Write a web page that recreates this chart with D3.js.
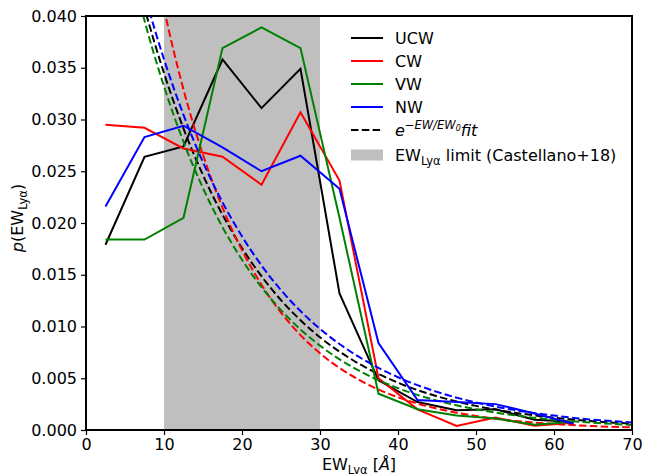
<!DOCTYPE html>
<html>
<head>
<meta charset="utf-8">
<script src="https://cdn.jsdelivr.net/npm/d3@7"></script>
<style>
  body { margin: 0; background: #fff; }
  text { font-family: "DejaVu Sans", sans-serif; }
</style>
</head>
<body>
<svg width="647" height="474"></svg>
<script>
// bin centres of the measured distributions
var binX = [2.5, 7.5, 12.5, 17.5, 22.5, 27.5, 32.5, 37.5, 42.5, 47.5, 52.5, 57.5, 62.5];
var ucw = [0.0179, 0.0264, 0.0274, 0.0358, 0.0311, 0.0349, 0.0132, 0.0048, 0.0027, 0.0019, 0.0020, 0.0010, 0.0008];
var cw  = [0.0295, 0.0292, 0.0272, 0.0264, 0.0237, 0.0307, 0.0241, 0.0050, 0.0020, 0.0004, 0.0012, 0.0004, 0.0007];
var vw  = [0.0184, 0.0184, 0.0205, 0.0369, 0.0389, 0.0369, 0.0205, 0.0035, 0.0020, 0.0014, 0.0011, 0.0005, 0.0008];
var nw  = [0.0216, 0.0283, 0.0294, 0.0273, 0.0250, 0.0265, 0.0233, 0.0084, 0.0029, 0.0027, 0.0025, 0.0016, 0.0006];

// dashed fit curves
var fitX = [5, 7.5, 10, 12.5, 15, 17.5, 20, 22.5, 25, 27.5, 30, 35, 40, 45, 50, 55, 60, 65, 70];
var ucwFit = [0.04827, 0.04080, 0.03448, 0.02913, 0.02462, 0.02080, 0.01758, 0.01486, 0.01255, 0.01061, 0.00896, 0.00640, 0.00457, 0.00326, 0.00233, 0.00167, 0.00119, 0.00085, 0.00061];
var cwFit  = [0.06232, 0.05036, 0.04071, 0.03290, 0.02659, 0.02149, 0.01737, 0.01404, 0.01134, 0.00917, 0.00741, 0.00484, 0.00316, 0.00207, 0.00135, 0.00088, 0.00058, 0.00038, 0.00025];
var vwFit  = [0.04716, 0.03956, 0.03320, 0.02785, 0.02337, 0.01960, 0.01645, 0.01380, 0.01158, 0.00971, 0.00815, 0.00573, 0.00404, 0.00284, 0.00200, 0.00141, 0.00099, 0.00070, 0.00049];
var nwFit  = [0.04957, 0.04214, 0.03582, 0.03045, 0.02588, 0.02200, 0.01871, 0.01590, 0.01351, 0.01149, 0.00977, 0.00706, 0.00510, 0.00368, 0.00266, 0.00192, 0.00139, 0.00100, 0.00073];

var seriesNames = ['UCW', 'CW', 'VW', 'NW'];
var seriesColors = ['black', 'red', 'green', 'blue'];
var limitRange = [10, 30];
var xTicks = [0, 10, 20, 30, 40, 50, 60, 70];
var yTicks = [0, 0.005, 0.01, 0.015, 0.02, 0.025, 0.03, 0.035, 0.04];

var svg = d3.select('svg');
var plotL = 86, plotR = 632, plotT = 16, plotB = 430;
var fs = 16, subFs = 11.5;

var x = d3.scaleLinear().domain([0, 70]).range([plotL, plotR]);
var y = d3.scaleLinear().domain([0, 0.04]).range([plotB, plotT]);

svg.append('clipPath').attr('id', 'plotclip')
  .append('rect')
  .attr('x', plotL).attr('y', plotT)
  .attr('width', plotR - plotL).attr('height', plotB - plotT);

var plot = svg.append('g').attr('clip-path', 'url(#plotclip)');

plot.append('rect')
  .attr('x', x(limitRange[0]))
  .attr('y', plotT)
  .attr('width', x(limitRange[1]) - x(limitRange[0]))
  .attr('height', plotB - plotT)
  .attr('fill', '#bfbfbf');

var solid = [ucw, cw, vw, nw];
var fits = [ucwFit, cwFit, vwFit, nwFit];

var line = d3.line()
  .x(function(d) { return x(d[0]); })
  .y(function(d) { return y(d[1]); });

var smooth = d3.line()
  .x(function(d) { return x(d[0]); })
  .y(function(d) { return y(d[1]); })
  .curve(d3.curveMonotoneX);

solid.forEach(function(vals, i) {
  plot.append('path')
    .attr('d', line(d3.zip(binX, vals)))
    .attr('fill', 'none')
    .attr('stroke', seriesColors[i])
    .attr('stroke-width', 2);
  plot.append('path')
    .attr('d', smooth(d3.zip(fitX, fits[i])))
    .attr('fill', 'none')
    .attr('stroke', seriesColors[i])
    .attr('stroke-width', 2)
    .attr('stroke-dasharray', '7.5,3.3');
});

// axes
var xAxis = svg.append('g')
  .attr('transform', 'translate(0,' + plotB + ')')
  .call(d3.axisBottom(x).tickValues(xTicks).tickSize(5).tickPadding(4).tickFormat(d3.format('d')));
var yAxis = svg.append('g')
  .attr('transform', 'translate(' + plotL + ',0)')
  .call(d3.axisLeft(y).tickValues(yTicks).tickSize(5).tickPadding(4).tickFormat(d3.format('.3f')));

[xAxis, yAxis].forEach(function(ax) {
  ax.select('.domain').remove();
  ax.selectAll('.tick line').attr('stroke', 'black').attr('stroke-width', 1.2);
  ax.selectAll('.tick text')
    .attr('font-size', fs)
    .attr('font-family', 'DejaVu Sans')
    .attr('fill', 'black');
});

svg.append('rect')
  .attr('x', plotL).attr('y', plotT)
  .attr('width', plotR - plotL).attr('height', plotB - plotT)
  .attr('fill', 'none')
  .attr('stroke', 'black')
  .attr('stroke-width', 2);

// axis labels
var xl = svg.append('text')
  .attr('x', (plotL + plotR) / 2)
  .attr('y', 470)
  .attr('text-anchor', 'middle')
  .attr('font-size', fs);
xl.append('tspan').text('EW');
xl.append('tspan').attr('font-size', subFs).attr('dy', 4).text('Lyα');
xl.append('tspan').attr('dy', -4).text(' [');
xl.append('tspan').attr('font-style', 'italic').text('Å');
xl.append('tspan').text(']');

var yl = svg.append('text')
  .attr('transform', 'translate(23,218) rotate(-90)')
  .attr('text-anchor', 'middle')
  .attr('font-size', fs);
yl.append('tspan').attr('font-style', 'italic').text('p');
yl.append('tspan').text('(EW');
yl.append('tspan').attr('font-size', subFs).attr('dy', 4).text('Lyα');
yl.append('tspan').attr('dy', -4).text(')');

// legend
var legX = 351, legW = 32, textX = 395;
var rowY = [38, 61, 84, 107, 130, 155];

seriesNames.forEach(function(name, i) {
  svg.append('line')
    .attr('x1', legX).attr('x2', legX + legW)
    .attr('y1', rowY[i]).attr('y2', rowY[i])
    .attr('stroke', seriesColors[i]).attr('stroke-width', 2);
  svg.append('text')
    .attr('x', textX).attr('y', rowY[i] + 6)
    .attr('font-size', fs)
    .text(name);
});

svg.append('line')
  .attr('x1', legX).attr('x2', legX + legW)
  .attr('y1', rowY[4]).attr('y2', rowY[4])
  .attr('stroke', 'black').attr('stroke-width', 2)
  .attr('stroke-dasharray', '7.5,3.3');
var ft = svg.append('text')
  .attr('x', textX).attr('y', rowY[4] + 6)
  .attr('font-size', fs);
ft.append('tspan').attr('font-style', 'italic').text('e');
ft.append('tspan').attr('font-style', 'italic').attr('font-size', subFs).attr('dy', -7).text('−EW/EW');
ft.append('tspan').attr('font-style', 'italic').attr('font-size', 8).attr('dy', 2).text('0');
ft.append('tspan').attr('font-style', 'italic').attr('dy', 5).text('fit');

svg.append('rect')
  .attr('x', legX).attr('y', rowY[5] - 5.5)
  .attr('width', legW).attr('height', 11)
  .attr('fill', '#bfbfbf');
var lt = svg.append('text')
  .attr('x', textX).attr('y', rowY[5] + 6)
  .attr('font-size', fs);
lt.append('tspan').text('EW');
lt.append('tspan').attr('font-size', subFs).attr('dy', 4).text('Lyα');
lt.append('tspan').attr('dy', -4).text(' limit (Castellano+18)');
</script>
</body>
</html>
